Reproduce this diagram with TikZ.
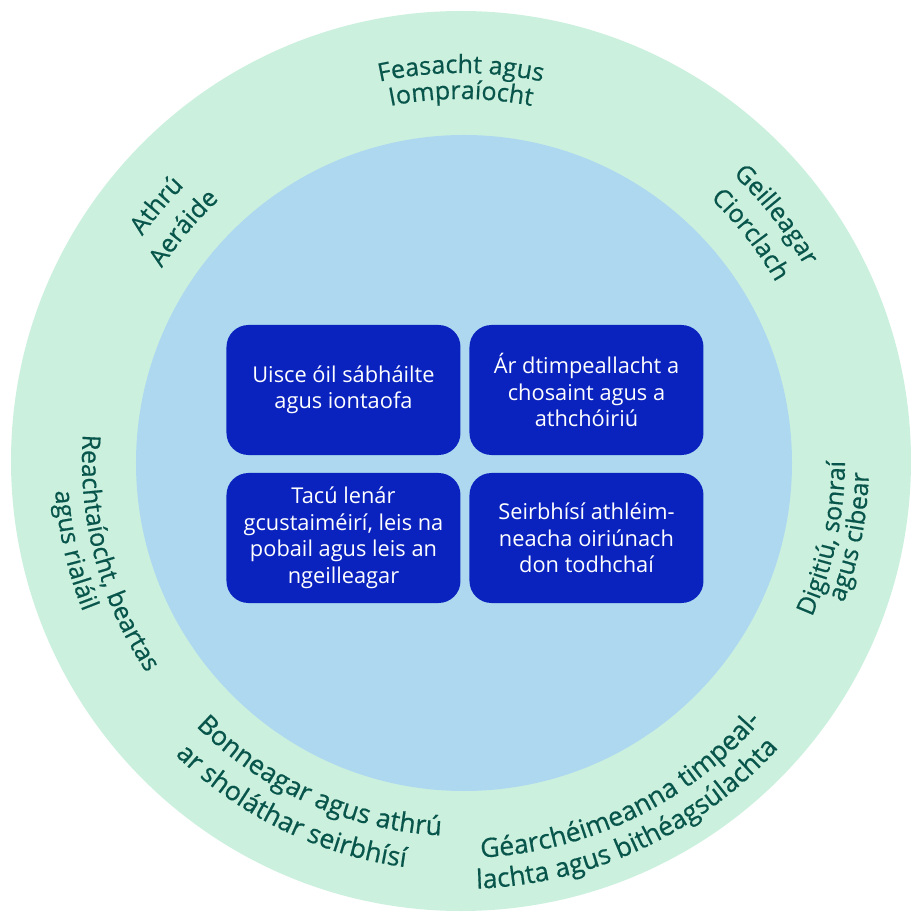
\documentclass[tikz,border=0pt]{standalone}
\usepackage{fontspec}
\setmainfont{Open Sans}
\newfontfamily\ringfont{Open Sans}[FakeBold=0.6]
\usetikzlibrary{decorations.text}
\definecolor{ringmint}{HTML}{CCF0DE}
\definecolor{coreblue}{HTML}{ADD8F0}
\definecolor{goalblue}{HTML}{0A23BE}
\definecolor{ringgreen}{HTML}{08554B}
\tikzset{goal/.style={fill=goalblue,text=white,rounded corners=22pt,
                      minimum width=234pt,minimum height=130pt,
                      align=center,font=\fontsize{21.8}{26.5}\selectfont}}
\tikzset{ring/.style={decorate,decoration={text along path,text align=center,
                      text color=ringgreen,text={|\ringfont\fontsize{25}{27}\selectfont|#1}}}}
\tikzset{bigring/.style={decorate,decoration={text along path,text align=center,
                      text color=ringgreen,text={|\ringfont\fontsize{26.5}{28}\selectfont|#1}}}}
\begin{document}
\begin{tikzpicture}[x=1pt,y=1pt]
  \useasboundingbox (-461,-454) rectangle (449,461);

  % The two discs: outer ring of themes, inner core
  \fill[ringmint] (0,0) circle (450);
  \fill[coreblue] (3,-2) circle (328);

  % The four goals are placed in a matrix:
  \matrix[row sep=18pt,column sep=9pt] at (4,-3) {
    \node (water) [goal] {Uisce óil sábháilte\\agus iontaofa}; &
    \node (nature) [goal] {Ár dtimpeallacht a\\chosaint agus a\\athchóiriú}; \\
    \node (people) [goal] {Tacú lenár\\gcustaiméirí, leis na\\pobail agus leis an\\ngeilleagar}; &
    \node (future) [goal] {Seirbhísí athléim-\\neacha oiriúnach\\don todhchaí}; \\
  };

  % Themes written along the ring
  % upper half: clockwise, tops out
  \path[ring={Feasacht agus}] (140:388) arc[start angle=140,end angle=40,radius=388];
  \path[ring={Iompraíocht}] (140:362) arc[start angle=140,end angle=40,radius=362];
  \path[ring={Geilleagar}] (88:395) arc[start angle=88,end angle=-12,radius=395];
  \path[ring={Ciorclach}] (88:362) arc[start angle=88,end angle=-12,radius=362];
  \path[ring={Athrú}] (190:390) arc[start angle=190,end angle=90,radius=390];
  \path[ring={Aeráide}] (190:356) arc[start angle=190,end angle=90,radius=356];
  % lower half: counter-clockwise, tops in
  \path[ring={Reachtaíocht, beartas}] (145:379) arc[start angle=145,end angle=245,radius=379];
  \path[ring={agus rialáil}] (143:407) arc[start angle=143,end angle=243,radius=407];
  \path[ring={Digitiú, sonraí}] (-62:384) arc[start angle=-62,end angle=38,radius=384];
  \path[ring={agus cibear}] (-61:408) arc[start angle=-61,end angle=39,radius=408];
  \path[bigring={Bonneagar agus athrú}] (196:375) arc[start angle=196,end angle=296,radius=375];
  \path[bigring={ar sholáthar seirbhísí}] (194:410) arc[start angle=194,end angle=294,radius=410];
  \path[bigring={Géarchéimeanna timpeal-}] (246:397) arc[start angle=246,end angle=346,radius=397];
  \path[bigring={lachta agus bithéagsúlachta}] (245:428) arc[start angle=245,end angle=345,radius=428];

\end{tikzpicture}
\end{document}
